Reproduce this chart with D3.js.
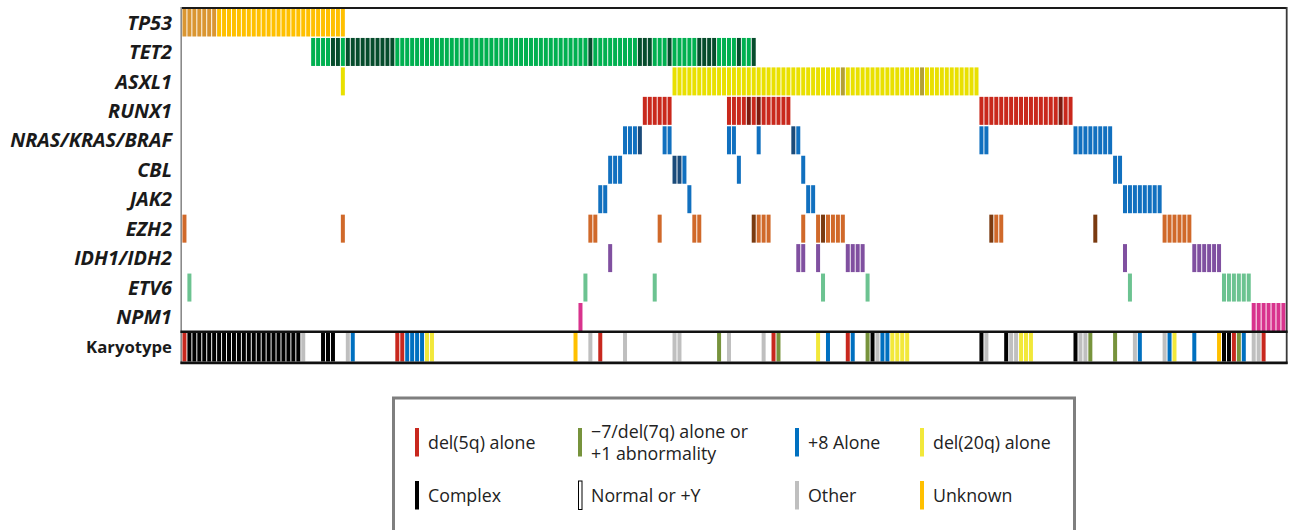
<!DOCTYPE html>
<html><head><meta charset="utf-8">
<script src="https://cdn.jsdelivr.net/npm/d3@7"></script>
<style>body{margin:0;background:#fff}svg{display:block}</style>
</head><body><svg id="c" width="1290" height="530"></svg>
<script>
// ---------- DATA (sample columns) ----------
const nSamples = 223;
const geneNames = ["TP53","TET2","ASXL1","RUNX1","NRAS/KRAS/BRAF","CBL","JAK2","EZH2","IDH1/IDH2","ETV6","NPM1"];
// runs: [firstSample, lastSample, kind]  kind 1 = mutation, 2 = second shade
const TP53  = [[0,6,2],[7,32,1]];
const TET2  = [[26,29,1],[30,31,2],[32,32,1],[33,42,2],[43,81,1],[82,82,2],[83,91,1],[92,94,2],[95,97,1],[98,98,2],[99,103,1],[104,107,2],[108,111,1],[112,112,2],[113,114,1],[115,115,2]];
const ASXL1 = [[32,32,1],[99,132,1],[133,133,2],[134,148,1],[149,149,2],[150,160,1]];
const RUNX1 = [[93,98,1],[110,113,1],[114,114,2],[115,115,1],[116,116,2],[117,122,1],[161,176,1],[177,177,2],[178,179,1]];
const NRAS  = [[89,91,1],[92,92,2],[97,98,1],[110,111,1],[116,116,1],[123,123,2],[124,124,1],[161,162,1],[180,187,1]];
const CBL   = [[86,88,1],[99,100,2],[101,101,1],[112,112,1],[125,125,1],[188,189,1]];
const JAK2  = [[84,85,1],[102,102,1],[126,127,1],[190,197,1]];
const EZH2  = [[0,0,1],[32,32,1],[82,83,1],[96,96,1],[103,104,1],[115,115,2],[116,118,1],[125,125,1],[128,128,1],[129,129,2],[130,133,1],[163,163,2],[164,165,1],[184,184,2],[198,203,1]];
const IDH   = [[86,86,1],[124,125,1],[128,128,1],[134,137,1],[190,190,1],[204,209,1]];
const ETV6  = [[1,1,1],[81,81,1],[95,95,1],[129,129,1],[138,138,1],[191,191,1],[210,215,1]];
const NPM1  = [[80,80,1],[216,222,1]];
const geneRuns = [TP53,TET2,ASXL1,RUNX1,NRAS,CBL,JAK2,EZH2,IDH,ETV6,NPM1];
const geneColors = [["#FFC000","#DA9632"],["#00B050","#064C2C"],["#E9E000","#B3A035"],["#C9281C","#7B1A0F"],["#1170BF","#1B4B7A"],["#1170BF","#1B4B7A"],["#1170BF","#1B4B7A"],["#D0692A","#7A3A10"],["#8050A0","#5A3075"],["#6CC391","#3E9A66"],["#D8338D","#A0205F"]];

// Karyotype runs: [first, last, code]; samples not listed are normal
const karyotype = [[0,0,"d5"],[1,23,"C"],[24,24,"O"],[28,30,"C"],[33,33,"O"],[34,34,"p8"],[43,44,"d5"],[45,48,"p8"],[49,50,"d20"],[79,79,"U"],[82,82,"O"],[84,84,"d5"],[89,89,"O"],[99,100,"O"],[108,108,"d7"],[110,110,"O"],[117,117,"O"],[119,119,"d5"],[120,120,"d7"],[128,128,"d20"],[130,130,"p8"],[134,134,"d5"],[135,135,"p8"],[138,138,"d7"],[139,139,"C"],[140,140,"O"],[141,142,"p8"],[143,146,"d20"],[161,161,"C"],[162,162,"O"],[166,166,"C"],[167,168,"O"],[169,171,"d20"],[180,180,"C"],[181,182,"O"],[183,183,"d7"],[188,188,"d7"],[192,192,"O"],[193,193,"p8"],[198,198,"O"],[199,199,"p8"],[200,200,"d20"],[204,204,"p8"],[209,209,"U"],[210,211,"C"],[212,212,"d5"],[213,213,"d7"],[214,214,"p8"],[216,217,"O"],[218,218,"d5"]];
const karyoCodes  = ["d5","d7","p8","d20","C","N","O","U"];
const karyoColors = ["#C8281E","#77933C","#0070C0","#F2E83A","#000000","#FFFFFF","#BFBFBF","#FFC000"];
const legendLabels = [["del(5q) alone"],["\u22127/del(7q) alone or","+1 abnormality"],["+8 Alone"],["del(20q) alone"],["Complex"],["Normal or +Y"],["Other"],["Unknown"]];

// ---------- DRAW ----------
const svg = d3.select("#c");
const L = 182, R = 1285.9, T = 8.5, rowStep = 29.45, barH = 28;
const x = d3.scaleBand().domain(d3.range(nSamples)).range([L, R]).paddingInner(0);
const bw = x.bandwidth();
const y = d3.scaleBand().domain(d3.range(geneNames.length)).range([T, T + rowStep*geneNames.length]).paddingInner(0);
const kColor = d3.scaleOrdinal().domain(karyoCodes).range(karyoColors);

function expand(runs){ const out=[]; runs.forEach(r=>{ for(let i=r[0];i<=r[1];i++) out.push({i, k:r[2]}); }); return out; }

// gene rows
geneRuns.forEach((runs, g) => {
  svg.append("g").selectAll("rect").data(expand(runs)).join("rect")
    .attr("x", d => x(d.i) + 0.45).attr("width", bw - 0.95)
    .attr("y", y(g)).attr("height", barH)
    .attr("fill", d => geneColors[g][d.k - 1]);
});

// karyotype row
const kTop = 333, kH = 28.5;
svg.append("g").selectAll("rect").data(expand(karyotype)).join("rect")
  .attr("x", d => x(d.i) + 0.45).attr("width", bw - 0.95)
  .attr("y", kTop).attr("height", kH)
  .attr("fill", d => kColor(d.k));

// frame
svg.append("line").attr("x1",L-1).attr("x2",R+1).attr("y1",8).attr("y2",8).attr("stroke","#1a1a1a").attr("stroke-width",2);
svg.append("line").attr("x1",L-0.8).attr("x2",L-0.8).attr("y1",7).attr("y2",364).attr("stroke","#8a8a8a").attr("stroke-width",1.6);
svg.append("line").attr("x1",R+0.8).attr("x2",R+0.8).attr("y1",7).attr("y2",364).attr("stroke","#3a3a3a").attr("stroke-width",1.8);
svg.append("line").attr("x1",L-1.6).attr("x2",R+1.7).attr("y1",kTop-1.2).attr("y2",kTop-1.2).attr("stroke","#111").attr("stroke-width",2.4);
svg.append("line").attr("x1",L-1.6).attr("x2",R+1.7).attr("y1",kTop+kH+1.4).attr("y2",kTop+kH+1.4).attr("stroke","#111").attr("stroke-width",2.8);

// labels
const labFont = "'Open Sans', 'Noto Sans', sans-serif";
const labels = svg.append("g").attr("font-family", labFont).attr("font-weight", 700).attr("fill", "#1a1a1a");
let fs = 16;
const probe = labels.append("text").attr("font-size", fs).attr("font-style","italic").text("NRAS/KRAS/BRAF");
const w = probe.node().getComputedTextLength();
fs = fs * 162 / w; probe.remove();
geneNames.forEach((n, g) => {
  labels.append("text").attr("x", 172).attr("y", y(g) + barH/2).attr("dy","0.36em")
    .attr("text-anchor","end").attr("font-size", fs).attr("font-style","italic").text(n);
});
labels.append("text").attr("x", 172).attr("y", kTop + kH/2).attr("dy","0.36em")
  .attr("text-anchor","end").attr("font-size", fs*0.84).text("Karyotype");

// legend
const lg = svg.append("g");
lg.append("rect").attr("x",393.5).attr("y",398).attr("width",681).attr("height",150)
  .attr("fill","#fff").attr("stroke","#7f7f7f").attr("stroke-width",3);
const colX = [415, 578, 795, 920], rowY = [428, 481];
const legFont = "'Open Sans', 'Noto Sans', sans-serif";
karyoCodes.forEach((c, i) => {
  const cx = colX[i % 4], ry = rowY[Math.floor(i/4)];
  lg.append("rect").attr("x", cx + (c==="N"?0.5:0)).attr("y", ry).attr("width", c==="N"?3.5:4).attr("height", 28.5)
    .attr("fill", kColor(c)).attr("stroke", c==="N" ? "#000" : "none").attr("stroke-width", 1);
  const lines = legendLabels[i];
  const t = lg.append("text").attr("font-family", legFont).attr("font-size", 17.8).attr("fill","#222");
  lines.forEach((s, j) => {
    t.append("tspan").attr("x", cx + 13)
      .attr("y", ry + 14.5 + (lines.length === 1 ? 0 : (j === 0 ? -10.5 : 11)))
      .attr("dy","0.35em").text(s);
  });
});
</script></body></html>
